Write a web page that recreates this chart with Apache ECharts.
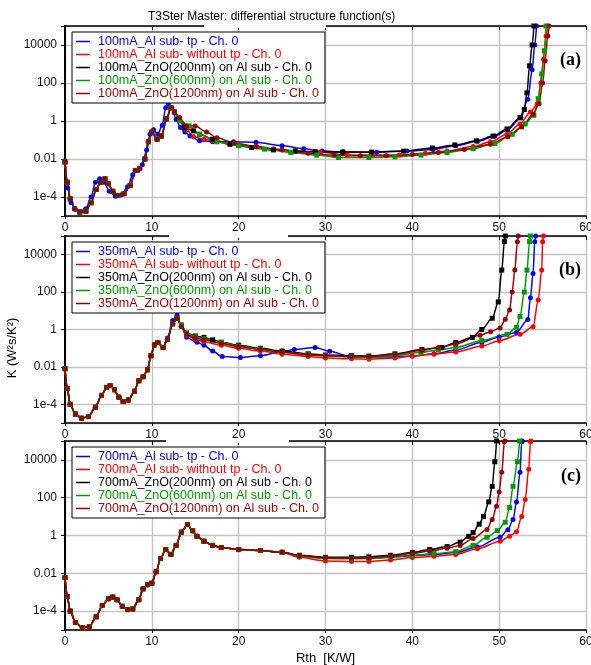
<!DOCTYPE html>
<html>
<head>
<meta charset="utf-8">
<script src="https://cdn.jsdelivr.net/npm/echarts@6/dist/echarts.min.js"></script>
<style>
  html, body { margin: 0; padding: 0; background: #fff; }
  #chart { width: 591px; height: 665px; }
</style>
</head>
<body>
<div id="chart"></div>
<script>
// panel currents and series naming
const currents = ['100mA', '350mA', '700mA']
const seriesSuffix = [
  '_Al sub- tp - Ch. 0',
  '_Al sub- without tp - Ch. 0',
  '_ZnO(200nm) on Al sub - Ch. 0',
  '_ZnO(600nm) on Al sub - Ch. 0',
  '_ZnO(1200nm) on Al sub - Ch. 0',
]
const colors = ['#0000ff', '#ff0000', '#000000', '#009a00', '#990000']
const symbols = ['circle', 'circle', 'rect', 'rect', 'circle']
const panelTags = ['(a)', '(b)', '(c)']

const yTickValues = [1e-4, 0.01, 1, 100, 10000]
const yTickLabels = ['1e-4', '0.01', '1', '100', '10000']

// ---- panel (a) 100mA : [Rth K/W, K W²s/K²]
const aHead = [[0, 7e-3], [0.25, 6e-4], [0.6, 8e-5], [1.1, 2.5e-5], [1.7, 1.6e-5], [2.4, 1.8e-5], [3.0, 5e-5],
  [3.6, 2.5e-4], [4.1, 6e-4], [4.6, 9e-4], [5.0, 5e-4], [5.5, 2e-4], [6.1, 1.2e-4], [6.8, 1.5e-4], [7.5, 4e-4],
  [8.1, 2.5e-3], [8.6, 3.2e-3], [9.2, 0.01], [9.6, 0.08], [10.0, 0.26], [10.6, 0.11], [11.1, 0.16], [11.7, 1.3],
  [12.2, 5], [12.6, 3]]
const aBlue = [[0, 8e-3], [0.3, 3e-4], [0.7, 5e-5], [1.2, 2.2e-5], [1.8, 1.7e-5], [2.4, 2.4e-5], [3.0, 1e-4],
  [3.5, 6e-4], [4.0, 9e-4], [4.5, 6e-4], [5.1, 2e-4], [5.8, 1.1e-4], [6.5, 1.3e-4], [7.2, 3.5e-4], [7.8, 1.5e-3],
  [8.4, 2.5e-3], [8.9, 5e-3], [9.4, 0.03], [9.8, 0.2], [10.2, 0.35], [10.7, 0.2], [11.2, 0.6], [11.6, 5],
  [11.9, 8], [12.3, 5], [12.8, 1.2], [13.3, 0.45], [13.8, 0.26], [14.4, 0.16], [15.5, 0.09], [17, 0.08],
  [19.4, 0.08], [22, 0.075], [25, 0.05], [27.5, 0.035], [29.6, 0.026], [32, 0.024], [35.9, 0.023], [39.4, 0.026],
  [42.4, 0.032], [45, 0.05], [47.5, 0.085], [49.5, 0.16], [51, 0.35], [52.5, 1.5], [53.3, 14], [53.8, 500],
  [54.1, 1e4], [54.3, 1e5]]
const aRedTail = [[13.2, 1.5], [14, 0.35], [14.8, 0.15], [16, 0.11], [17, 0.09], [19, 0.06], [22.1, 0.043],
  [24, 0.034], [26.5, 0.027], [29.4, 0.023], [32.5, 0.016], [35.5, 0.016], [38.5, 0.016], [41.5, 0.02],
  [44, 0.026], [47, 0.045], [49, 0.08], [50.9, 0.2], [52.4, 0.7], [53.6, 3], [54.4, 8], [54.8, 100],
  [55.1, 1800], [55.4, 3e4], [55.6, 1e5]]
const aBlackTail = [[13.1, 1.2], [13.8, 0.45], [14.8, 0.3], [15.5, 0.2], [17, 0.11], [19, 0.06], [21.5, 0.04],
  [24, 0.03], [26.5, 0.026], [28.8, 0.024], [32, 0.023], [35.3, 0.023], [39, 0.026], [42.3, 0.038],
  [44.9, 0.055], [47.4, 0.09], [49.3, 0.16], [50.9, 0.38], [52.4, 1.5], [52.9, 4], [53.2, 30], [53.5, 800],
  [53.8, 1e4], [54.0, 1e5]]
const aGreenTail = [[13.2, 1.0], [14.3, 0.55], [15.5, 0.2], [17.5, 0.08], [20, 0.05], [23, 0.033], [26, 0.022],
  [29, 0.016], [31.5, 0.012], [35, 0.012], [38, 0.013], [41, 0.016], [44, 0.022], [47, 0.035], [49.5, 0.065],
  [51.5, 0.2], [53, 0.7], [54, 2], [54.5, 15], [54.9, 300], [55.2, 5000], [55.4, 1e5]]
const aDarkRedTail = [[13.2, 1.5], [14, 0.55], [15, 0.55], [16.3, 0.26], [17.5, 0.13], [19.5, 0.07], [22, 0.045],
  [25, 0.03], [28, 0.02], [31, 0.016], [34, 0.015], [37, 0.015], [40, 0.017], [43, 0.022], [46, 0.032],
  [49, 0.06], [51, 0.15], [52.6, 0.48], [53.9, 2.3], [54.6, 8], [55.0, 100], [55.3, 1500], [55.6, 3e4],
  [55.75, 1e5]]

// ---- panel (b) 350mA
const bHead = [[0, 8e-3], [0.25, 7e-4], [0.6, 1e-4], [1.2, 3e-5], [1.9, 1.8e-5], [2.7, 2.2e-5], [3.5, 7e-5],
  [4.2, 3e-4], [4.8, 8e-4], [5.2, 1e-3], [5.7, 6e-4], [6.2, 2.4e-4], [6.7, 1.4e-4], [7.3, 1.7e-4], [8.0, 5e-4],
  [8.5, 1.8e-3], [9.0, 3e-3], [9.5, 7e-3], [9.9, 0.04], [10.3, 0.15], [10.7, 0.2], [11.3, 0.11], [11.8, 0.3],
  [12.4, 2], [12.9, 4]]
const bBlue = [[0, 8e-3], [0.25, 7e-4], [0.6, 1e-4], [1.2, 3e-5], [1.9, 1.8e-5], [2.7, 2.2e-5], [3.5, 7e-5],
  [4.2, 3e-4], [4.8, 8e-4], [5.2, 1e-3], [5.7, 6e-4], [6.2, 2.4e-4], [6.7, 1.4e-4], [7.3, 1.7e-4], [8.0, 5e-4],
  [8.5, 1.8e-3], [9.0, 3e-3], [9.5, 7e-3], [9.9, 0.04], [10.3, 0.15], [10.7, 0.2], [11.3, 0.11], [11.8, 0.35],
  [12.4, 3], [12.9, 6], [13.4, 1.5], [14, 0.38], [15.2, 0.21], [16, 0.145], [17, 0.07], [18.1, 0.036],
  [20.2, 0.032], [22.5, 0.04], [25.1, 0.068], [26.4, 0.085], [28.8, 0.11], [30.5, 0.068], [32.8, 0.036],
  [35, 0.034], [38, 0.034], [40, 0.038], [42.5, 0.05], [45, 0.08], [48, 0.21], [50, 0.4], [52, 0.7],
  [53.3, 3.4], [53.6, 50], [53.9, 1000], [54.1, 5e4], [54.2, 1e5]]
const bRedTail = [[13.4, 1.5], [14, 0.5], [15, 0.3], [16, 0.22], [18, 0.145], [20, 0.1], [22.5, 0.07],
  [25, 0.048], [28, 0.036], [30, 0.03], [33, 0.027], [35, 0.026], [38, 0.03], [40, 0.038], [42.5, 0.048],
  [45, 0.063], [48, 0.13], [50, 0.25], [52.4, 0.55], [53.9, 1.4], [54.5, 38], [54.9, 1500], [55.0, 5e4],
  [55.1, 1e5]]
const bBlackTail = [[13.4, 1.6], [14, 0.65], [15, 0.45], [16, 0.38], [17, 0.28], [18, 0.21], [20, 0.145],
  [22.5, 0.1], [25, 0.07], [28, 0.05], [30, 0.043], [33, 0.04], [35, 0.038], [38, 0.05], [41.1, 0.085],
  [43.4, 0.11], [45, 0.2], [46.9, 0.38], [48, 1], [49.2, 4], [49.9, 30], [50.3, 1500], [50.6, 5e4],
  [50.7, 1e5]]
const bGreenTail = [[13.4, 1.8], [14, 0.6], [15, 0.4], [16, 0.32], [18, 0.2], [20, 0.13], [22.5, 0.09],
  [25, 0.06], [28, 0.045], [30, 0.038], [33, 0.034], [35, 0.033], [38, 0.04], [41, 0.06], [43, 0.08],
  [45, 0.11], [48, 0.26], [50.9, 0.55], [52, 1.3], [52.4, 5], [52.9, 100], [53.2, 1500], [53.5, 5e4],
  [53.6, 1e5]]
const bDarkRedTail = [[13.4, 1.5], [14, 0.55], [15, 0.35], [16, 0.28], [18, 0.18], [20, 0.12], [22.5, 0.085],
  [25, 0.06], [28, 0.045], [30, 0.04], [33, 0.036], [35, 0.036], [38, 0.045], [41, 0.075], [43, 0.11],
  [45, 0.17], [47.8, 0.5], [49, 0.75], [50.1, 1.2], [50.7, 3.5], [51.2, 11], [51.5, 100], [51.8, 1500],
  [52.1, 5e4], [52.2, 1e5]]

// ---- panel (c) 700mA
const cHead = [[0, 6e-3], [0.25, 6e-4], [0.6, 1e-4], [1.2, 2.5e-5], [2.0, 1.3e-5], [2.8, 1.5e-5], [3.6, 5e-5],
  [4.3, 2e-4], [5.0, 4.5e-4], [5.5, 5.5e-4], [6.0, 4e-4], [6.6, 1.8e-4], [7.2, 1.2e-4], [7.8, 1.3e-4],
  [8.5, 4e-4], [9.0, 1.5e-3], [9.5, 2.5e-3], [10.0, 3e-3], [10.5, 0.012], [11.0, 0.06], [11.6, 0.18],
  [12.2, 0.1], [12.8, 0.3], [13.4, 1.5], [14.1, 3.8], [14.7, 1.8], [15.2, 0.9], [16, 0.5], [17, 0.3],
  [18, 0.23], [20, 0.18], [22.5, 0.16], [25, 0.13]]
const cBlueTail = [[27, 0.085], [30, 0.068], [33, 0.062], [35, 0.062], [37.5, 0.07], [40, 0.085], [42.5, 0.1],
  [45, 0.126], [47.5, 0.25], [50.1, 0.8], [51, 2], [51.6, 7], [52, 60], [52.4, 2200], [52.6, 9e4], [52.65, 1e5]]
const cRedTail = [[27, 0.07], [30, 0.045], [33, 0.042], [35, 0.042], [37.5, 0.05], [40, 0.068], [42.5, 0.08],
  [45, 0.1], [47.5, 0.2], [50.1, 0.5], [51.2, 0.9], [52.0, 1.6], [52.6, 10], [53.0, 80], [53.4, 3200],
  [53.6, 9e4], [53.65, 1e5]]
const cBlackTail = [[27, 0.09], [30, 0.07], [33, 0.07], [35, 0.075], [37.5, 0.09], [40, 0.125], [42, 0.18],
  [44, 0.26], [45.5, 0.45], [46.5, 0.9], [47, 1.45], [47.7, 4], [48.2, 10], [48.8, 60], [49.2, 400],
  [49.5, 8000], [49.7, 1e5]]
const cGreenTail = [[27, 0.08], [30, 0.06], [33, 0.058], [35, 0.06], [37.5, 0.07], [40, 0.09], [42.5, 0.11],
  [45, 0.14], [47, 0.3], [48.6, 0.8], [49.8, 1.8], [50.7, 5], [51.2, 30], [51.6, 400], [52.1, 8000], [52.35, 1e5]]
const cDarkRedTail = [[27, 0.085], [30, 0.065], [33, 0.063], [35, 0.065], [37.5, 0.08], [40, 0.11], [42, 0.15],
  [44, 0.21], [45.5, 0.3], [47, 0.7], [48.6, 2.1], [49.2, 7], [49.7, 35], [50, 200], [50.3, 2200],
  [50.6, 9e4], [50.65, 1e5]]

// order per panel: blue, red, black, green, dark red
const panelData = [
  [aBlue, aHead.concat(aRedTail), aHead.concat(aBlackTail), aHead.concat(aGreenTail), aHead.concat(aDarkRedTail)],
  [bBlue, bHead.concat(bRedTail), bHead.concat(bBlackTail), bHead.concat(bGreenTail), bHead.concat(bDarkRedTail)],
  [cHead.concat(cBlueTail), cHead.concat(cRedTail), cHead.concat(cBlackTail), cHead.concat(cGreenTail), cHead.concat(cDarkRedTail)],
]

const gridBoxes = [{ top: 26, height: 190 }, { top: 236, height: 187 }, { top: 441, height: 189 }]
const legendTops = [32, 242, 447]
const FONT = 'Liberation Sans, Arial, sans-serif'

function yLabel(v) {
  const i = yTickValues.findIndex(t => Math.abs(Math.log10(t) - Math.log10(v)) < 0.1)
  return i < 0 ? '' : yTickLabels[i]
}

const grid = [], xAxis = [], yAxis = [], legend = [], series = [], graphic = []

gridBoxes.forEach((g, p) => {
  grid.push({ left: 65, right: 5, top: g.top, height: g.height, outerBoundsMode: 'none', containLabel: false })
  const axLine = { show: true, lineStyle: { color: '#000', width: 1.5 } }
  xAxis.push({
    type: 'value', gridIndex: p, min: 0, max: 60, interval: 10, position: 'bottom',
    axisLine: axLine, axisTick: { show: true, length: 3, lineStyle: { color: '#000' } },
    axisLabel: { color: '#111', fontFamily: FONT, fontSize: 12, margin: 6 },
    splitLine: { show: true, lineStyle: { color: '#c4c4c4', width: 1.4 } },
    name: p === 2 ? 'Rth  [K/W]' : '', nameLocation: 'middle', nameGap: 22,
    nameTextStyle: { color: '#000', fontFamily: FONT, fontSize: 13 },
  })
  xAxis.push({
    type: 'value', gridIndex: p, min: 0, max: 60, interval: 10, position: 'top',
    axisLine: axLine, axisTick: { show: true, inside: true, length: 4, lineStyle: { color: '#000' } },
    axisLabel: { show: false }, splitLine: { show: false },
  })
  const yBase = { type: 'log', logBase: 100, gridIndex: p, min: 1e-5, max: 1e5 }
  yAxis.push(Object.assign({}, yBase, {
    position: 'left',
    axisLine: { show: true, lineStyle: { color: '#000', width: 2 } },
    axisTick: { show: true, length: 4, lineStyle: { color: '#000' } },
    axisLabel: { color: '#111', fontFamily: FONT, fontSize: 12, margin: 8, formatter: yLabel,
      showMinLabel: false, showMaxLabel: false },
    splitLine: { show: true, lineStyle: { color: '#c4c4c4', width: 1.4 } },
  }))
  yAxis.push(Object.assign({}, yBase, {
    position: 'right',
    axisLine: { show: true, lineStyle: { color: '#000', width: 1.5 } },
    axisTick: { show: true, inside: true, length: 4, lineStyle: { color: '#000' } },
    axisLabel: { show: false }, splitLine: { show: false },
  }))

  const names = seriesSuffix.map(s => currents[p] + s)
  legend.push({
    orient: 'vertical', left: 72, top: legendTops[p],
    data: names.map((n, k) => ({ name: n, textStyle: { color: colors[k] } })),
    icon: 'rect', itemWidth: 14, itemHeight: 1.5, itemGap: 0,
    textStyle: { fontFamily: FONT, fontSize: 12.5, lineHeight: 11.6, padding: [0, 0, 0, 3] },
    backgroundColor: '#fff', borderColor: '#000', borderWidth: 1, borderRadius: 0,
    padding: [3, 6, 3, 4], selectedMode: false,
  })

  panelData[p].forEach((d, k) => {
    series.push({
      type: 'line', name: names[k], xAxisIndex: p * 2, yAxisIndex: p * 2, data: d,
      color: colors[k], symbol: symbols[k], symbolSize: 5, showAllSymbol: true,
      smooth: 0.3, smoothMonotone: 'x', lineStyle: { width: 1.5 },
    })
  })

  graphic.push({
    type: 'text', right: 10, top: g.top + [25, 25, 26][p],
    style: { text: panelTags[p], font: 'bold 18px "Liberation Serif", "Times New Roman", serif', fill: '#000' },
    z: 100,
  })
})

// y axis title, shared by the three panels
graphic.push({
  type: 'text', x: 12, y: 348, rotation: Math.PI / 2,
  style: { text: 'K (W²s/K²)', font: '13px "Liberation Sans", Arial, sans-serif', fill: '#000',
    align: 'center', verticalAlign: 'middle' },
  z: 100,
})

// gaps in the top frame lines
graphic.push({ type: 'rect', shape: { x: 204, y: 24, width: 122, height: 4 }, style: { fill: '#fff' }, z: 100 })
graphic.push({ type: 'rect', shape: { x: 169, y: 234, width: 119, height: 4 }, style: { fill: '#fff' }, z: 100 })
graphic.push({ type: 'rect', shape: { x: 166, y: 439, width: 123, height: 4 }, style: { fill: '#fff' }, z: 100 })

const chart = echarts.init(document.getElementById('chart'), null, { renderer: 'canvas' })
chart.setOption({
  animation: false,
  backgroundColor: '#fff',
  title: {
    text: 'T3Ster Master: differential structure function(s)', left: 143, top: 6,
    textStyle: { color: '#000', fontFamily: FONT, fontSize: 12, fontWeight: 'normal' },
  },
  grid, xAxis, yAxis, legend, series, graphic,
})
</script>
</body>
</html>
